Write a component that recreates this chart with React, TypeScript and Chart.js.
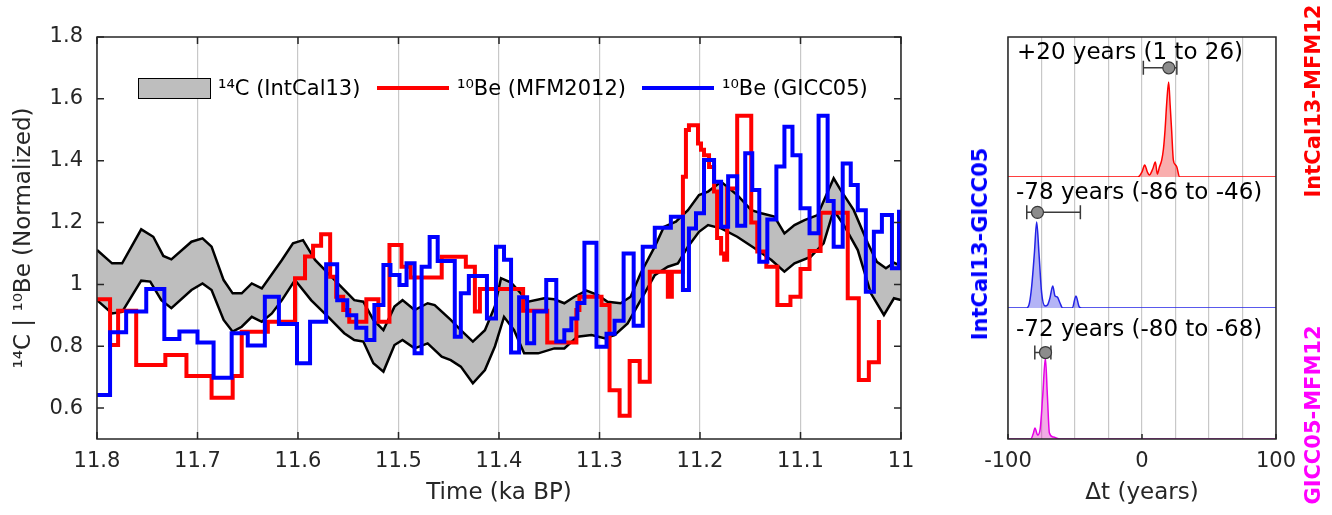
import React, { useEffect, useRef } from 'react';
import { Chart, registerables } from 'chart.js';

Chart.register(...registerables);

const FONT = "'DejaVu Sans', sans-serif";
const AXIS_COLOR = '#262626';
const GRID_COLOR = '#c8c8c8';

// ---------------- Left panel data ----------------
const X_TICKS = [11.8, 11.7, 11.6, 11.5, 11.4, 11.3, 11.2, 11.1, 11.0];
const Y_TICKS = [0.6, 0.8, 1.0, 1.2, 1.4, 1.6, 1.8];

const C14_UPPER_T = [11.800, 11.785, 11.775, 11.756, 11.744, 11.734, 11.726, 11.706, 11.695, 11.686, 11.674, 11.665, 11.656, 11.646, 11.636, 11.616, 11.605, 11.595, 11.583, 11.570, 11.554, 11.544, 11.535, 11.525, 11.515, 11.504, 11.496, 11.484, 11.471, 11.464, 11.448, 11.438, 11.426, 11.414, 11.404, 11.398, 11.388, 11.371, 11.355, 11.345, 11.335, 11.325, 11.313, 11.302, 11.292, 11.279, 11.269, 11.259, 11.245, 11.236, 11.224, 11.212, 11.201, 11.192, 11.179, 11.163, 11.149, 11.139, 11.126, 11.116, 11.106, 11.096, 11.083, 11.067, 11.060, 11.047, 11.033, 11.024, 11.015, 11.007, 11.000];
const C14_UPPER_V = [1.111, 1.068, 1.068, 1.178, 1.154, 1.092, 1.081, 1.138, 1.149, 1.122, 1.014, 0.971, 0.971, 1.003, 0.987, 1.079, 1.133, 1.143, 1.079, 1.036, 0.982, 0.949, 0.944, 0.885, 0.852, 0.928, 0.949, 0.917, 0.939, 0.933, 0.885, 0.852, 0.815, 0.852, 0.930, 1.020, 1.006, 0.944, 0.955, 0.952, 0.939, 0.960, 0.980, 0.966, 0.944, 0.939, 0.960, 1.036, 1.122, 1.186, 1.203, 1.240, 1.289, 1.300, 1.332, 1.289, 1.240, 1.230, 1.219, 1.165, 1.192, 1.208, 1.224, 1.343, 1.305, 1.240, 1.133, 1.073, 1.052, 1.070, 1.060];

const C14_LOWER_T = [11.800, 11.785, 11.775, 11.756, 11.747, 11.736, 11.726, 11.706, 11.695, 11.686, 11.674, 11.665, 11.656, 11.646, 11.636, 11.626, 11.616, 11.603, 11.587, 11.570, 11.554, 11.544, 11.535, 11.525, 11.515, 11.504, 11.496, 11.484, 11.471, 11.457, 11.448, 11.438, 11.426, 11.414, 11.404, 11.395, 11.385, 11.375, 11.361, 11.345, 11.335, 11.322, 11.308, 11.295, 11.285, 11.272, 11.259, 11.245, 11.232, 11.222, 11.212, 11.201, 11.192, 11.179, 11.163, 11.143, 11.129, 11.116, 11.106, 11.090, 11.077, 11.067, 11.057, 11.043, 11.030, 11.017, 11.007, 11.000];
const C14_LOWER_V = [0.949, 0.906, 0.911, 1.012, 1.009, 0.949, 0.923, 0.982, 1.003, 0.982, 0.885, 0.847, 0.863, 0.895, 0.879, 0.906, 0.949, 1.014, 0.949, 0.895, 0.842, 0.820, 0.815, 0.745, 0.718, 0.804, 0.820, 0.793, 0.809, 0.766, 0.755, 0.734, 0.680, 0.723, 0.800, 0.895, 0.852, 0.777, 0.777, 0.793, 0.793, 0.831, 0.836, 0.826, 0.836, 0.874, 0.949, 1.030, 1.057, 1.068, 1.122, 1.170, 1.192, 1.181, 1.154, 1.111, 1.079, 1.041, 1.068, 1.089, 1.133, 1.240, 1.192, 1.111, 0.971, 0.901, 0.955, 0.949];

const MFM_T = [11.800, 11.787, 11.779, 11.761, 11.732, 11.711, 11.686, 11.665, 11.656, 11.630, 11.603, 11.593, 11.585, 11.577, 11.568, 11.562, 11.555, 11.549, 11.532, 11.520, 11.509, 11.497, 11.488, 11.457, 11.433, 11.424, 11.419, 11.376, 11.352, 11.323, 11.320, 11.298, 11.290, 11.280, 11.270, 11.260, 11.250, 11.232, 11.228, 11.217, 11.214, 11.211, 11.202, 11.199, 11.196, 11.191, 11.186, 11.183, 11.179, 11.176, 11.173, 11.163, 11.149, 11.143, 11.134, 11.123, 11.110, 11.100, 11.091, 11.080, 11.053, 11.042, 11.032, 11.022];
const MFM_V = [0.952, 0.804, 0.915, 0.739, 0.772, 0.704, 0.633, 0.704, 0.847, 0.879, 1.020, 1.090, 1.125, 1.162, 1.025, 0.960, 0.917, 0.879, 0.952, 0.879, 1.127, 1.057, 1.022, 1.089, 1.057, 0.912, 0.985, 0.915, 0.812, 0.917, 0.960, 0.933, 0.658, 0.575, 0.752, 0.685, 1.041, 0.960, 1.041, 1.348, 1.499, 1.515, 1.456, 1.435, 1.418, 1.380, 1.300, 1.150, 1.100, 1.080, 1.310, 1.545, 1.200, 1.106, 1.057, 0.933, 0.960, 1.050, 1.108, 1.232, 0.955, 0.691, 0.748, 0.885];

const GICC_T = [11.800, 11.787, 11.771, 11.751, 11.733, 11.718, 11.700, 11.684, 11.666, 11.650, 11.633, 11.619, 11.601, 11.588, 11.572, 11.561, 11.551, 11.542, 11.532, 11.524, 11.515, 11.508, 11.499, 11.492, 11.484, 11.477, 11.469, 11.461, 11.444, 11.438, 11.430, 11.412, 11.403, 11.395, 11.388, 11.380, 11.372, 11.365, 11.353, 11.343, 11.335, 11.328, 11.322, 11.315, 11.303, 11.293, 11.285, 11.276, 11.266, 11.257, 11.245, 11.229, 11.217, 11.211, 11.204, 11.196, 11.186, 11.179, 11.172, 11.163, 11.155, 11.148, 11.141, 11.133, 11.124, 11.116, 11.108, 11.100, 11.091, 11.082, 11.073, 11.067, 11.058, 11.050, 11.043, 11.035, 11.027, 11.019, 11.009, 11.002, 11.000];
const GICC_V = [0.642, 0.845, 0.912, 0.985, 0.823, 0.848, 0.812, 0.698, 0.842, 0.802, 0.960, 0.872, 0.745, 0.879, 1.065, 0.949, 0.900, 0.860, 0.820, 0.933, 1.063, 1.030, 0.998, 1.068, 0.777, 1.057, 1.153, 1.076, 0.831, 0.971, 1.027, 0.890, 1.122, 1.080, 0.780, 0.958, 0.810, 0.912, 1.014, 0.815, 0.852, 0.890, 0.940, 1.135, 0.798, 0.840, 0.882, 1.100, 0.866, 1.122, 1.183, 1.219, 0.982, 1.181, 1.230, 1.402, 1.332, 1.186, 1.350, 1.190, 1.424, 1.305, 1.073, 1.210, 1.381, 1.510, 1.418, 1.246, 1.165, 1.545, 1.270, 1.122, 1.391, 1.321, 1.240, 0.976, 1.170, 1.224, 1.052, 1.235, 1.235];

// ---------------- Right panel data ----------------
const DT_TICKS = [-100, -75, -50, -25, 0, 25, 50, 75, 100];
const DT_LABELED = [-100, 0, 100];

const PDF_C14_MFM_DT = [-100, -5, -3, 0, 2, 4, 5.5, 8, 10, 11.4, 13, 14.7, 16, 17.2, 18.5, 19.9, 21, 22.1, 23.4, 25, 26, 28, 100];
const PDF_C14_MFM_P = [0, 0, 0, 0.036, 0.086, 0.036, 0.014, 0.057, 0.107, 0.021, 0.071, 0.121, 0.2, 0.336, 0.536, 0.679, 0.514, 0.336, 0.121, 0.086, 0.071, 0, 0];

const PDF_C14_GICC_DT = [-100, -86, -84, -82.3, -80.3, -78.6, -76.9, -74.9, -72.4, -70.5, -68.7, -66.6, -64.9, -63.2, -61.2, -59.2, -52, -49.3, -46.8, -45, 100];
const PDF_C14_GICC_P = [0, 0, 0.038, 0.168, 0.42, 0.656, 0.42, 0.115, 0.015, 0.023, 0.076, 0.168, 0.092, 0.084, 0.038, 0, 0, 0.092, 0.008, 0, 0];

const PDF_GICC_MFM_DT = [-100, -83, -81, -79.9, -77.9, -76, -74.1, -72.1, -70.6, -69.1, -66.2, -61, 100];
const PDF_GICC_MFM_P = [0, 0, 0.046, 0.084, 0.031, 0.076, 0.328, 0.618, 0.328, 0.046, 0.015, 0, 0];

const LAG_BEST = [20, -78, -72];
const LAG_LO = [1, -86, -80];
const LAG_HI = [26, -46, -68];
const LAG_TEXT = ['+20 years (1 to 26)', '-78 years (-86 to -46)', '-72 years (-80 to -68)'];
const LAG_MARK_Y = [0.78, 0.73, 0.66];
const PANEL_IDS = ['yR', 'yB', 'yM'];

const pts = (xs: number[], ys: number[]) => xs.map((x, i) => ({ x, y: ys[i] }));

const leftFrame = {
  id: 'leftFrame',
  afterDraw(chart: any) {
    const { ctx, chartArea: a, scales } = chart;
    ctx.save();
    ctx.strokeStyle = AXIS_COLOR;
    ctx.lineWidth = 1.5;
    ctx.strokeRect(a.left, a.top, a.right - a.left, a.bottom - a.top);
    const tl = 7;
    ctx.beginPath();
    for (const v of Y_TICKS) {
      const y = scales.y.getPixelForValue(v);
      ctx.moveTo(a.left, y); ctx.lineTo(a.left + tl, y);
      ctx.moveTo(a.right, y); ctx.lineTo(a.right - tl, y);
    }
    for (const v of X_TICKS) {
      const x = scales.x.getPixelForValue(v);
      ctx.moveTo(x, a.bottom); ctx.lineTo(x, a.bottom - tl);
      ctx.moveTo(x, a.top); ctx.lineTo(x, a.top + tl);
    }
    ctx.stroke();
    ctx.restore();
  },
};

const rightFrame = {
  id: 'rightFrame',
  afterDraw(chart: any) {
    const { ctx, chartArea: a, scales } = chart;
    ctx.save();
    for (let i = 0; i < 3; i++) {
      const ys = scales[PANEL_IDS[i]];
      const y = ys.getPixelForValue(LAG_MARK_Y[i]);
      const x0 = scales.x.getPixelForValue(LAG_LO[i]);
      const x1 = scales.x.getPixelForValue(LAG_HI[i]);
      const xb = scales.x.getPixelForValue(LAG_BEST[i]);
      ctx.strokeStyle = '#3a3a3a';
      ctx.lineWidth = 1.5;
      ctx.beginPath();
      ctx.moveTo(x0, y); ctx.lineTo(x1, y);
      ctx.moveTo(x0, y - 7); ctx.lineTo(x0, y + 7);
      ctx.moveTo(x1, y - 7); ctx.lineTo(x1, y + 7);
      ctx.stroke();
      ctx.beginPath();
      ctx.arc(xb, y, 6, 0, Math.PI * 2);
      ctx.fillStyle = '#8c8c8c';
      ctx.fill();
      ctx.lineWidth = 1.2;
      ctx.stroke();
    }
    ctx.strokeStyle = AXIS_COLOR;
    ctx.lineWidth = 1.5;
    ctx.strokeRect(a.left, a.top, a.right - a.left, a.bottom - a.top);
    ctx.beginPath();
    for (const v of DT_LABELED) {
      const x = scales.x.getPixelForValue(v);
      ctx.moveTo(x, a.bottom); ctx.lineTo(x, a.bottom - 5);
    }
    ctx.stroke();
    ctx.restore();
  },
};

function LeftChart() {
  const ref = useRef<HTMLCanvasElement>(null);
  useEffect(() => {
    if (!ref.current) return;
    const chart = new Chart(ref.current, {
      type: 'line',
      data: {
        datasets: [
          { label: '10Be (GICC05)', data: pts(GICC_T, GICC_V), borderColor: '#0000ff', borderWidth: 4, stepped: 'before', pointRadius: 0, fill: false } as any,
          { label: '10Be (MFM2012)', data: pts(MFM_T, MFM_V), borderColor: '#ff0000', borderWidth: 4, stepped: 'before', pointRadius: 0, fill: false } as any,
          { label: '14C upper', data: pts(C14_UPPER_T, C14_UPPER_V), borderColor: '#000000', borderWidth: 2.5, pointRadius: 0, fill: '+1', backgroundColor: '#bebebe' } as any,
          { label: '14C lower', data: pts(C14_LOWER_T, C14_LOWER_V), borderColor: '#000000', borderWidth: 2.5, pointRadius: 0, fill: false } as any,
        ],
      },
      options: {
        animation: false,
        responsive: false,
        devicePixelRatio: 1,
        parsing: false as any,
        layout: { padding: { top: 37, right: 49, bottom: 0, left: 0 } },
        plugins: { legend: { display: false }, tooltip: { enabled: false }, filler: { drawTime: 'beforeDatasetsDraw' } },
        scales: {
          x: {
            type: 'linear', reverse: true, min: 11.0, max: 11.8,
            afterBuildTicks: (s: any) => { s.ticks = X_TICKS.map((v) => ({ value: v })); },
            afterFit: (s: any) => { s.height = 76; },
            ticks: { color: AXIS_COLOR, font: { size: 21, family: FONT }, padding: 10, maxRotation: 0, autoSkip: false, callback: (v: any) => String(Number(Number(v).toFixed(1))) },
            grid: { color: GRID_COLOR, lineWidth: 1.2, drawTicks: false },
            border: { display: false },
            title: { display: true, text: 'Time (ka BP)', color: AXIS_COLOR, font: { size: 23, family: FONT }, padding: { top: 0, bottom: 8 } },
          },
          y: {
            type: 'linear', min: 0.5, max: 1.8,
            afterBuildTicks: (s: any) => { s.ticks = Y_TICKS.map((v) => ({ value: v })); },
            afterFit: (s: any) => { s.width = 97; },
            ticks: { color: AXIS_COLOR, font: { size: 21, family: FONT }, padding: 14, callback: (v: any) => String(Number(Number(v).toFixed(1))) },
            grid: { display: false, drawTicks: false },
            border: { display: false },
            title: { display: true, text: '¹⁴C | ¹⁰Be (Normalized)', color: AXIS_COLOR, font: { size: 23, family: FONT }, padding: { top: 10, bottom: 0 } },
          },
        },
      } as any,
      plugins: [leftFrame],
    });
    return () => chart.destroy();
  }, []);
  return <canvas ref={ref} width={950} height={515} style={{ position: 'absolute', left: 0, top: 0, width: 950, height: 515 }} />;
}

function RightChart() {
  const ref = useRef<HTMLCanvasElement>(null);
  useEffect(() => {
    if (!ref.current) return;
    const panelAxis = (weight: number) => ({
      type: 'linear', position: 'left', stack: 'lag', stackWeight: weight, min: 0, max: 1,
      afterFit: (s: any) => { s.width = 0; },
      ticks: { display: false }, grid: { display: false, drawTicks: false }, border: { display: false },
    });
    const chart = new Chart(ref.current, {
      type: 'line',
      data: {
        datasets: [
          { label: 'IntCal13-MFM12', yAxisID: 'yR', data: pts(PDF_C14_MFM_DT, PDF_C14_MFM_P), borderColor: '#ff0000', borderWidth: 1.5, backgroundColor: 'rgba(240,40,40,0.38)', fill: 'origin', pointRadius: 0, cubicInterpolationMode: 'monotone' } as any,
          { label: 'IntCal13-GICC05', yAxisID: 'yB', data: pts(PDF_C14_GICC_DT, PDF_C14_GICC_P), borderColor: '#2323e6', borderWidth: 1.5, backgroundColor: 'rgba(40,40,230,0.35)', fill: 'origin', pointRadius: 0, cubicInterpolationMode: 'monotone' } as any,
          { label: 'GICC05-MFM12', yAxisID: 'yM', data: pts(PDF_GICC_MFM_DT, PDF_GICC_MFM_P), borderColor: '#e600e6', borderWidth: 1.5, backgroundColor: 'rgba(220,40,190,0.38)', fill: 'origin', pointRadius: 0, cubicInterpolationMode: 'monotone' } as any,
        ],
      },
      options: {
        animation: false,
        responsive: false,
        devicePixelRatio: 1,
        parsing: false as any,
        layout: { padding: { top: 37, right: 56, bottom: 0, left: 58 } },
        plugins: { legend: { display: false }, tooltip: { enabled: false }, filler: { drawTime: 'beforeDatasetsDraw' } },
        scales: {
          x: {
            type: 'linear', min: -100, max: 100,
            afterBuildTicks: (s: any) => { s.ticks = DT_TICKS.map((v) => ({ value: v })); },
            afterFit: (s: any) => { s.height = 76; },
            ticks: { color: AXIS_COLOR, font: { size: 21, family: FONT }, padding: 10, maxRotation: 0, autoSkip: false, callback: (v: any) => (DT_LABELED.includes(Number(v)) ? String(v) : '') },
            grid: { color: GRID_COLOR, lineWidth: 1.2, drawTicks: false },
            border: { display: false },
            title: { display: true, text: 'Δt (years)', color: AXIS_COLOR, font: { size: 23, family: FONT }, padding: { top: 0, bottom: 8 } },
          },
          yM: panelAxis(131),
          yB: panelAxis(131),
          yR: panelAxis(140),
        },
      } as any,
      plugins: [rightFrame],
    });
    return () => chart.destroy();
  }, []);
  return <canvas ref={ref} width={382} height={515} style={{ position: 'absolute', left: 950, top: 0, width: 382, height: 515 }} />;
}

const txt = (left: number, cy: number, size: number, extra: any = {}) => ({
  position: 'absolute' as const, left, top: cy - 15, height: 30, lineHeight: '30px',
  fontFamily: FONT, fontSize: size, color: '#000', whiteSpace: 'nowrap' as const, ...extra,
});

const vtxt = (cx: number, cy: number, color: string) => ({
  position: 'absolute' as const, left: cx, top: cy, transform: 'translate(-50%, -50%) rotate(-90deg)',
  fontFamily: FONT, fontSize: 21, fontWeight: 'bold' as const, color, whiteSpace: 'nowrap' as const, lineHeight: '24px',
});

export default function App() {
  return (
    <div style={{ position: 'absolute', left: 0, top: 0, width: 1332, height: 515, overflow: 'hidden', background: '#fff' }}>
      <LeftChart />
      <RightChart />
      {/* legend */}
      <div style={{ position: 'absolute', left: 138, top: 78, width: 73, height: 21, background: '#bebebe', border: '1.5px solid #000', boxSizing: 'border-box' }} />
      <div style={txt(218, 88, 21)}>¹⁴C (IntCal13)</div>
      <div style={{ position: 'absolute', left: 377, top: 86, width: 72, height: 4, background: '#ff0000' }} />
      <div style={txt(457, 88, 21)}>¹⁰Be (MFM2012)</div>
      <div style={{ position: 'absolute', left: 642, top: 86, width: 72, height: 4, background: '#0000ff' }} />
      <div style={txt(722, 88, 21)}>¹⁰Be (GICC05)</div>
      {/* lag annotations */}
      <div style={txt(1017, 51, 23)}>{LAG_TEXT[0]}</div>
      <div style={txt(1016, 191, 23)}>{LAG_TEXT[1]}</div>
      <div style={txt(1016, 328, 23)}>{LAG_TEXT[2]}</div>
      {/* side labels */}
      <div style={vtxt(980, 244, '#0000ff')}>IntCal13-GICC05</div>
      <div style={vtxt(1313, 101, '#ff0000')}>IntCal13-MFM12</div>
      <div style={vtxt(1313, 415, '#ff00ff')}>GICC05-MFM12</div>
    </div>
  );
}
